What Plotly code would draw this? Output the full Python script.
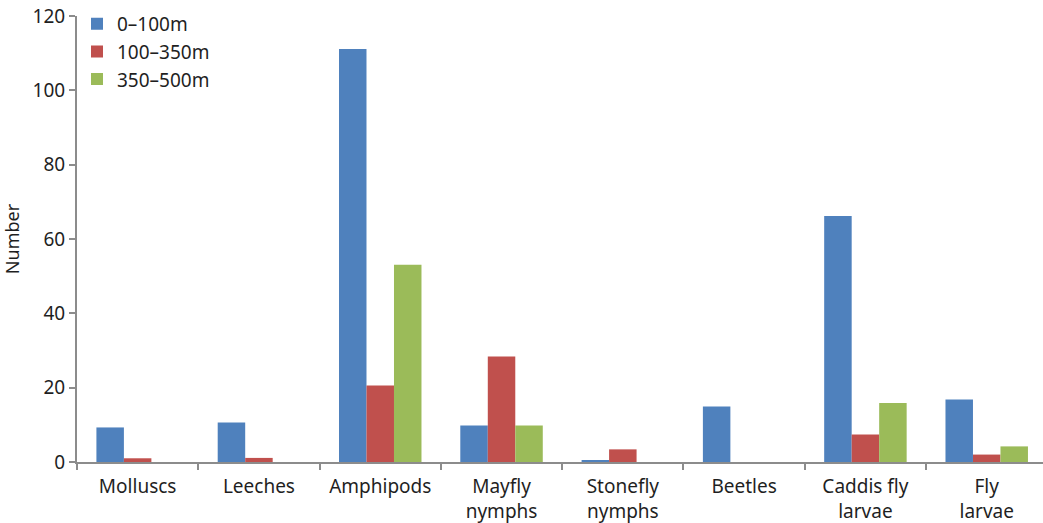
import plotly.graph_objects as go

categories = ["Molluscs", "Leeches", "Amphipods", "Mayfly<br>nymphs", "Stonefly<br>nymphs",
              "Beetles", "Caddis fly<br>larvae", "Fly<br>larvae"]
depth_0_100 = [9.3, 10.6, 111.1, 9.8, 0.3, 14.9, 66.2, 16.8]
depth_100_350 = [1.0, 1.1, 20.6, 28.4, 3.4, 0, 7.4, 2.0]
depth_350_500 = [0, 0, 53.1, 9.8, 0, 0, 15.9, 4.2]
y_ticks = [0, 20, 40, 60, 80, 100, 120]

font_family = "Noto Sans, Open Sans, sans-serif"
text_color = "#1f1f1f"
axis_grey = "#8c8c8c"

fig = go.Figure()
for name, vals, color in [
    ("0\u2013100m", depth_0_100, "#4F81BD"),
    ("100\u2013350m", depth_100_350, "#C0504D"),
    ("350\u2013500m", depth_350_500, "#9BBB59"),
]:
    fig.add_trace(go.Bar(x=categories, y=vals, name=name, marker_color=color,
                         marker_line_width=0))

fig.update_layout(
    width=1043, height=523,
    margin=dict(l=77, r=0, t=16, b=61),
    plot_bgcolor="white", paper_bgcolor="white",
    barmode="group", bargap=0.32, bargroupgap=0,
    font=dict(family=font_family, size=19, color=text_color),
    legend=dict(x=0.0, y=1.025, xanchor="left", yanchor="top",
                font=dict(size=19, color=text_color),
                bgcolor="rgba(0,0,0,0)", tracegroupgap=0, itemwidth=30),
    showlegend=True,
)
fig.update_xaxes(
    range=[-0.5, 7.464], showline=True, linecolor=axis_grey, linewidth=2,
    ticks="outside", tickson="boundaries", ticklen=6, tickcolor=axis_grey, tickwidth=1.5,
    ticklabelstandoff=6,
    tickfont=dict(size=19, color=text_color), showgrid=False, zeroline=False,
)
fig.update_yaxes(
    range=[0, 120], tickvals=y_ticks, showline=True, linecolor=axis_grey, linewidth=2,
    ticks="outside", ticklen=6, tickcolor=axis_grey, tickwidth=1.5,
    tickfont=dict(size=19, color=text_color), showgrid=False, zeroline=False,
    title=dict(text="Number", font=dict(size=18, color=text_color), standoff=12),
)

fig.write_html("out.html")
